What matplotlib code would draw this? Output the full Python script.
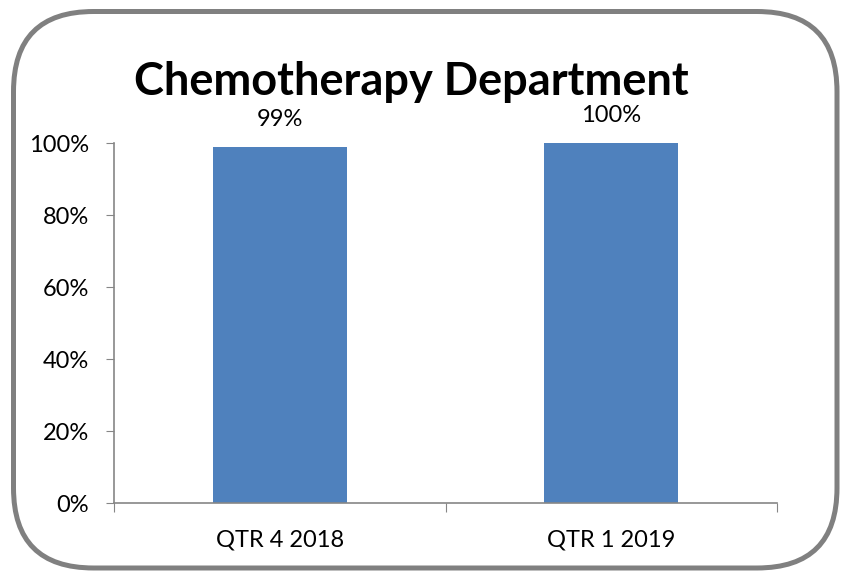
import matplotlib
matplotlib.use("Agg")
import matplotlib.pyplot as plt
from matplotlib.patches import FancyBboxPatch
from matplotlib.ticker import PercentFormatter

categories = ["QTR 4 2018", "QTR 1 2019"]
values = [0.99, 1.00]
value_labels = ["99%", "100%"]
yticks = [0, 0.2, 0.4, 0.6, 0.8, 1.0]

plt.rcParams['font.family'] = ['Lato', 'DejaVu Sans']

fig = plt.figure(figsize=(8.42, 5.71), dpi=100)
W, H = 842, 571

# rounded border
bx0, bx1 = 13.5, 837.0
by0, by1 = 11.5, 568.0  # from top
border = FancyBboxPatch((bx0 / W, (H - by1) / H), (bx1 - bx0) / W, (by1 - by0) / H,
                        boxstyle="round,pad=0,rounding_size=0.095",
                        transform=fig.transFigure, facecolor="white",
                        edgecolor="#808080", linewidth=3.6, zorder=-5,
                        mutation_aspect=W / H)
fig.patches.append(border)

ax = fig.add_axes([114 / W, (H - 503) / H, (777 - 114) / W, (503 - 143) / H])
ax.set_zorder(2)
ax.set_facecolor("none")
x = [0.5, 1.5]
ax.bar(x, values, width=0.405, color="#4F81BD", zorder=2)
ax.set_xlim(0, 2)
ax.set_ylim(0, 1.0)
ax.set_yticks(yticks)
ax.yaxis.set_major_formatter(PercentFormatter(1.0, decimals=0))
ax.set_xticks([0, 1, 2])
ax.set_xticklabels([])
ax.set_xticks(x, minor=True)
ax.set_xticklabels(categories, minor=True)
ax.tick_params(axis="x", which="minor", length=0, pad=19, labelsize=17)
ax.tick_params(axis="x", which="major", length=6.5, color="#868686", direction="out")
ax.tick_params(axis="y", length=6, color="#868686", labelsize=17, pad=12)
for s in ["top", "right"]:
    ax.spines[s].set_visible(False)
for s in ["left", "bottom"]:
    ax.spines[s].set_color("#868686")
    ax.spines[s].set_linewidth(1.2)

for xi, v, lab in zip(x, values, value_labels):
    ax.annotate(lab, (xi, v), xytext=(0, 12), textcoords="offset points",
                ha="center", va="bottom", fontsize=17)

fig.text(411 / W, (H - 95) / H, "Chemotherapy Department", ha="center",
         va="baseline", fontsize=32.5, fontweight="bold", zorder=3)

fig.savefig("out.png", dpi=100)
